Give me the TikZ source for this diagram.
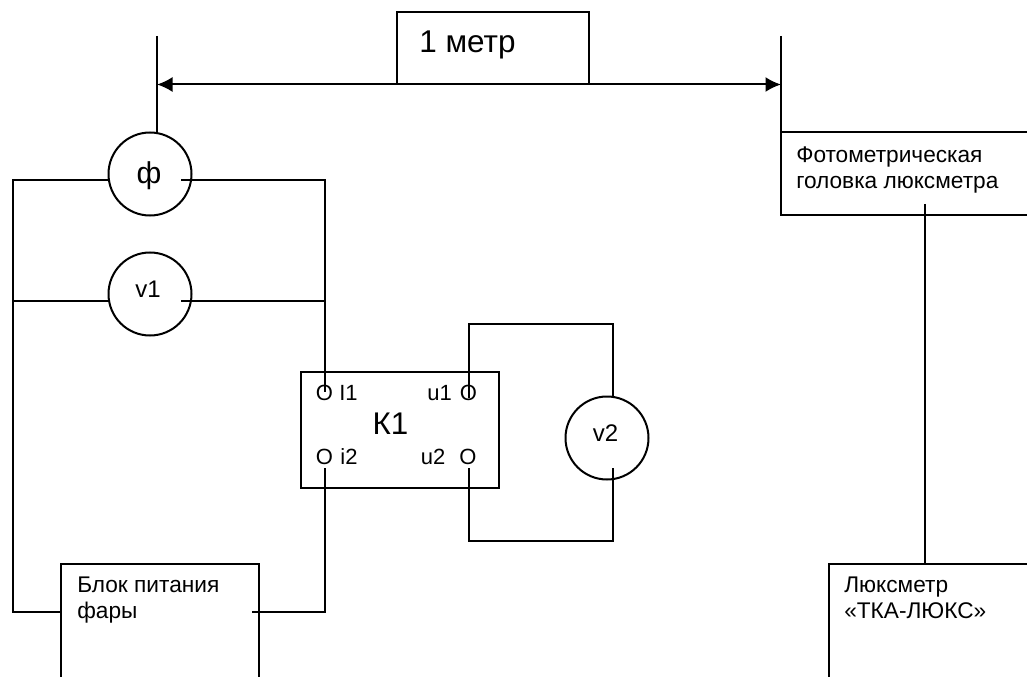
\documentclass[tikz,border=0pt]{standalone}
\usepackage{fontspec}
\usetikzlibrary{arrows.meta}
\setmainfont{Liberation Sans}
\tikzset{
  devbox/.style={draw,line width=1.5pt,rectangle,inner sep=0pt,outer sep=0pt,anchor=north west},
  metercircle/.style={draw,line width=1.5pt,circle,minimum size=83*0.75pt,inner sep=0pt,outer sep=0pt},
  boxtext/.style={anchor=north west,inner sep=0pt,align=left,font=\fontsize{17}{19.1}\selectfont},
  pintext/.style={inner sep=0pt,font=\fontsize{16.5}{16.5}\selectfont},
  metertext/.style={inner sep=0pt,font=\fontsize{18}{18}\selectfont},
  wire/.style={line width=1.5pt},
}
\begin{document}
\begin{tikzpicture}[x=0.75pt,y=-0.75pt]
  \clip (0,0) rectangle (1027,677);
  \fill[white] (0,0) rectangle (1027,677);
  \node[devbox,minimum width=192*0.75pt,minimum height=72*0.75pt] (metr) at (397,12.5) {};
  \node[pintext,font=\fontsize{23.6}{23.6}\selectfont] (metrtext) at (467.5,44.5) {1 метр};
  \node[devbox,minimum width=260*0.75pt,minimum height=83*0.75pt] (head) at (781,132) {};
  \node[boxtext] (headtext) at (796,147) {Фотометрическая\\головка люксметра};
  \node[devbox,minimum width=198*0.75pt,minimum height=116*0.75pt] (k1) at (301,372) {};
  \node[pintext,font=\fontsize{23.5}{23.5}\selectfont] (k1text) at (390.5,424) {К1};
  \node[devbox,minimum width=198*0.75pt,minimum height=130*0.75pt] (pitanie) at (61,564) {};
  \node[boxtext] (pitanietext) at (77,577) {Блок питания\\фары};
  \node[devbox,minimum width=215*0.75pt,minimum height=130*0.75pt] (luks) at (829,564) {};
  \node[boxtext] (lukstext) at (844,577) {Люксметр\\«ТКА-ЛЮКС»};
  \node[metercircle] (phi) at (150,174) {};
  \node[metercircle] (v1) at (150,294) {};
  \node[metercircle] (v2) at (607,438) {};
  \node[metertext,font=\fontsize{22.6}{22.6}\selectfont] (phitext) at (149,176) {ф};
  \node[metertext] (v1text) at (148,289) {v1};
  \node[metertext] (v2text) at (605.5,433) {v2};
  \node[pintext] (i1) at (324.5,393) {O};
  \node[pintext] (i2) at (324.5,456.5) {O};
  \node[pintext] (u1) at (468.5,393) {O};
  \node[pintext] (u2) at (468,456.5) {O};
  \node[pintext] (i1text) at (348.5,393) {I1};
  \node[pintext] (i2text) at (349,456.5) {i2};
  \node[pintext] (u1text) at (439.5,393) {u1};
  \node[pintext] (u2text) at (433,456.5) {u2};

  \coordinate (lefttop) at (157,36);
  \coordinate (leftlow) at (157,133);
  \coordinate (righttop) at (781,36);
  \coordinate (leftarrow) at (157,84.5);
  \coordinate (rightarrow) at (781,84.5);
  \coordinate (phiin) at (108,180.5);
  \coordinate (phiout) at (181,180.5);
  \coordinate (v1in) at (108,300.5);
  \coordinate (v1out) at (181,300.5);
  \coordinate (v2up) at (613,397);
  \coordinate (v2low) at (613,468);
  \coordinate (headout) at (925,204);
  \coordinate (pitin) at (61,612);
  \coordinate (pitout) at (252,612);
  \coordinate (i1top) at (325,392);
  \coordinate (i2low) at (325,468);
  \coordinate (u1top) at (469,398);
  \coordinate (u2low) at (469,468);

  \draw[wire] (lefttop) -- (leftlow);
  \draw[wire] (righttop) -- (head.north west);
  \draw[wire,{Latex[length=15.5*0.75pt,width=15*0.75pt]}-{Latex[length=15.5*0.75pt,width=15*0.75pt]}] (leftarrow) -- (rightarrow);
  \draw[wire] (phiin) -| (13,612) -- (pitin);
  \draw[wire] (v1in) -- (13,300.5);
  \draw[wire] (phiout) -| (i1top);
  \draw[wire] (v1out) -- (325,300.5);
  \draw[wire] (i2low) |- (pitout);
  \draw[wire] (u1top) |- (613,324) -- (v2up);
  \draw[wire] (u2low) |- (613,541) -- (v2low);
  \draw[wire] (headout) -- (luks.north -| headout);
\end{tikzpicture}
\end{document}
